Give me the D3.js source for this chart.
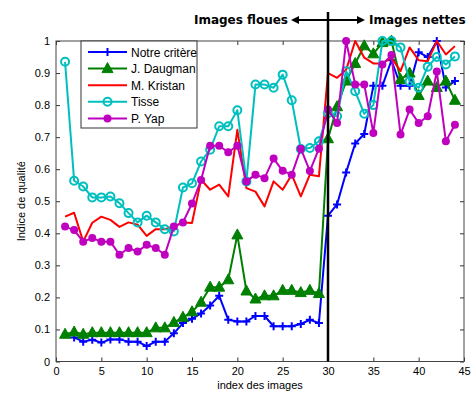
<!DOCTYPE html>
<html>
<head>
<meta charset="utf-8">
<script src="https://cdn.jsdelivr.net/npm/d3@7"></script>
<style>
  body { margin: 0; background: #fff; }
  text { font-family: "Liberation Sans", Arial, sans-serif; }
</style>
</head>
<body>
<div id="plot"></div>
<script>
// values, index -> quality
const notreIdx = d3.range(2, 45);
const notreVals = [0.075, 0.062, 0.068, 0.059, 0.069, 0.069, 0.062, 0.062, 0.048, 0.062, 0.062,
  0.088, 0.12, 0.133, 0.15, 0.175, 0.205, 0.13, 0.125, 0.125, 0.142, 0.142, 0.11, 0.11, 0.11, 0.117, 0.13, 0.12,
  0.455, 0.49, 0.59, 0.68, 0.71, 0.86, 0.86, 0.94, 0.86, 0.86, 0.965, 0.95, 1.0, 0.855, 0.875];

const daugmanIdx = d3.range(1, 45);
const daugmanVals = [0.085, 0.092, 0.085, 0.09, 0.09, 0.09, 0.09, 0.09, 0.09, 0.09, 0.105, 0.105,
  0.122, 0.138, 0.155, 0.185, 0.232, 0.232, 0.255, 0.395, 0.22, 0.195, 0.205, 0.205, 0.222, 0.222, 0.215, 0.222, 0.212,
  0.695, 0.795, 0.875, 0.93, 0.985, 0.96, 0.995, 1.0, 0.88, 0.9, 0.83, 0.875, 0.855, 0.875, 0.815];

const kristanIdx = d3.range(1, 45);
const kristanVals = [0.452, 0.464, 0.374, 0.433, 0.452, 0.442, 0.42, 0.434, 0.427, 0.392, 0.413, 0.413,
  0.421, 0.434, 0.432, 0.567, 0.536, 0.552, 0.515, 0.723, 0.541, 0.53, 0.484, 0.562, 0.536, 0.583, 0.515, 0.583, 0.578,
  0.9, 0.885, 0.91, 1.0, 0.948, 0.93, 0.93, 0.948, 0.906, 0.98, 0.94, 0.937, 1.0, 0.958, 0.984];

const tisseIdx = d3.range(1, 45);
const tisseVals = [0.935, 0.564, 0.546, 0.512, 0.512, 0.515, 0.494, 0.463, 0.434, 0.455, 0.434, 0.413,
  0.406, 0.543, 0.556, 0.624, 0.661, 0.734, 0.734, 0.784, 0.562, 0.864, 0.864, 0.854, 0.895, 0.815, 0.663, 0.666, 0.687,
  0.775, 0.765, 0.906, 0.843, 0.773, 0.8, 1.0, 1.0, 0.98, 0.874, 0.854, 0.92, 0.95, 0.927, 0.952];

const yapIdx = d3.range(1, 45);
const yapVals = [0.421, 0.41, 0.374, 0.385, 0.374, 0.374, 0.333, 0.354, 0.343, 0.364, 0.354, 0.333,
  0.421, 0.434, 0.493, 0.566, 0.673, 0.673, 0.653, 0.673, 0.562, 0.583, 0.572, 0.633, 0.595, 0.583, 0.664, 0.594, 0.664,
  0.786, 0.744, 1.0, 0.864, 0.864, 0.713, 0.927, 0.956, 0.708, 0.786, 0.744, 0.765, 0.905, 0.687, 0.739];

const xTicks = [0, 5, 10, 15, 20, 25, 30, 35, 40, 45];
const yTicks = [0, 0.1, 0.2, 0.3, 0.4, 0.5, 0.6, 0.7, 0.8, 0.9, 1];

const seriesNames = ["Notre critère", "J. Daugman", "M. Kristan", "Tisse", "P. Yap"];
const seriesColors = ["#0000ff", "#008000", "#ff0000", "#00bfbf", "#bf00bf"];
const seriesMarkers = ["plus", "triangle", "none", "ring", "dot"];
const seriesIdx = [notreIdx, daugmanIdx, kristanIdx, tisseIdx, yapIdx];
const seriesVals = [notreVals, daugmanVals, kristanVals, tisseVals, yapVals];

const W = 475, H = 401;
const margin = { top: 41, right: 11, bottom: 39.5, left: 56 };
const width = W - margin.left - margin.right;
const height = H - margin.top - margin.bottom;

const svg = d3.select("#plot").append("svg")
  .attr("width", W).attr("height", H);

const g = svg.append("g").attr("transform", `translate(${margin.left},${margin.top})`);

const x = d3.scaleLinear().domain([0, 45]).range([0, width]);
const y = d3.scaleLinear().domain([0, 1]).range([height, 0]);

// axes, matlab style ticks pointing inwards
const tickLen = 4;
g.append("g").attr("transform", `translate(0,${height})`)
  .call(d3.axisBottom(x).tickValues(xTicks).tickSize(-tickLen).tickPadding(6).tickFormat(d3.format("d")))
  .call(a => a.select(".domain").remove());
g.append("g").attr("transform", `translate(0,0)`)
  .call(d3.axisTop(x).tickValues(xTicks).tickSize(-tickLen).tickFormat(""))
  .call(a => a.select(".domain").remove());
g.append("g")
  .call(d3.axisLeft(y).tickValues(yTicks).tickSize(-tickLen).tickPadding(6).tickFormat(d => d === 0 || d === 1 ? d3.format("d")(d) : d3.format(".1f")(d)))
  .call(a => a.select(".domain").remove());
g.append("g").attr("transform", `translate(${width},0)`)
  .call(d3.axisRight(y).tickValues(yTicks).tickSize(-tickLen).tickFormat(""))
  .call(a => a.select(".domain").remove());
g.selectAll(".tick line").attr("stroke", "#333");
g.selectAll(".tick text").style("font-size", "11px").attr("fill", "#000")
  .style("font-family", "'Liberation Sans', Arial, sans-serif");

g.append("rect").attr("width", width).attr("height", height)
  .attr("fill", "none").attr("stroke", "#444").attr("stroke-width", 1);

const line = d3.line().x(d => x(d[0])).y(d => y(d[1]));

function drawMarker(sel, type, color, cx, cy) {
  if (type === "plus") {
    sel.append("path").attr("d", `M${cx - 4},${cy}H${cx + 4}M${cx},${cy - 4}V${cy + 4}`)
      .attr("stroke", color).attr("stroke-width", 2);
  } else if (type === "triangle") {
    sel.append("path").attr("d", `M${cx},${cy - 6}L${cx + 5.5},${cy + 4}L${cx - 5.5},${cy + 4}Z`)
      .attr("fill", color).attr("stroke", color).attr("stroke-width", 1);
  } else if (type === "ring") {
    sel.append("circle").attr("cx", cx).attr("cy", cy).attr("r", 4)
      .attr("fill", "none").attr("stroke", color).attr("stroke-width", 2);
  } else if (type === "dot") {
    sel.append("circle").attr("cx", cx).attr("cy", cy).attr("r", 4)
      .attr("fill", color);
  }
}

seriesNames.forEach((name, k) => {
  const pts = seriesIdx[k].map((i, j) => [i, seriesVals[k][j]]);
  const sg = g.append("g");
  sg.append("path").datum(pts).attr("d", line)
    .attr("fill", "none").attr("stroke", seriesColors[k]).attr("stroke-width", 2)
    .attr("stroke-linejoin", "round");
  pts.forEach(p => drawMarker(sg, seriesMarkers[k], seriesColors[k], x(p[0]), y(p[1])));
});

// separation line at image 30
svg.append("line")
  .attr("x1", margin.left + x(30)).attr("x2", margin.left + x(30))
  .attr("y1", 12).attr("y2", margin.top + height)
  .attr("stroke", "#000").attr("stroke-width", 2.5);

const arrowY = 20;
const cxLine = margin.left + x(30);
svg.append("line").attr("x1", cxLine - 33).attr("x2", cxLine + 33)
  .attr("y1", arrowY).attr("y2", arrowY).attr("stroke", "#000").attr("stroke-width", 2);
svg.append("path").attr("d", `M${cxLine - 37},${arrowY}l8,-4v8z`).attr("fill", "#000");
svg.append("path").attr("d", `M${cxLine + 37},${arrowY}l-8,-4v8z`).attr("fill", "#000");
svg.append("text").attr("x", cxLine - 40).attr("y", arrowY + 4)
  .attr("text-anchor", "end").style("font-weight", "bold").style("font-size", "12px")
  .style("font-family", "'DejaVu Sans', sans-serif").text("Images floues");
svg.append("text").attr("x", cxLine + 41).attr("y", arrowY + 4)
  .attr("text-anchor", "start").style("font-weight", "bold").style("font-size", "12px")
  .style("font-family", "'DejaVu Sans', sans-serif").text("Images nettes");

// axis labels
svg.append("text").attr("x", margin.left + width / 2).attr("y", 389)
  .attr("text-anchor", "middle").style("font-size", "11px").text("index des images");
svg.append("text").attr("transform", `translate(25,${margin.top + height / 2}) rotate(-90)`)
  .attr("text-anchor", "middle").style("font-size", "11px").text("Indice de qualité");

// legend
const lg = svg.append("g").attr("transform", "translate(81,41)");
lg.append("rect").attr("width", 116).attr("height", 87)
  .attr("fill", "#fff").attr("stroke", "#333").attr("stroke-width", 1);
seriesNames.forEach((name, k) => {
  const ry = 11 + k * 16.6;
  lg.append("line").attr("x1", 7).attr("x2", 46).attr("y1", ry).attr("y2", ry)
    .attr("stroke", seriesColors[k]).attr("stroke-width", 2);
  drawMarker(lg, seriesMarkers[k], seriesColors[k], 26.5, ry);
  lg.append("text").attr("x", 50).attr("y", ry + 4.5).style("font-size", "12px").text(name);
});
</script>
</body>
</html>
